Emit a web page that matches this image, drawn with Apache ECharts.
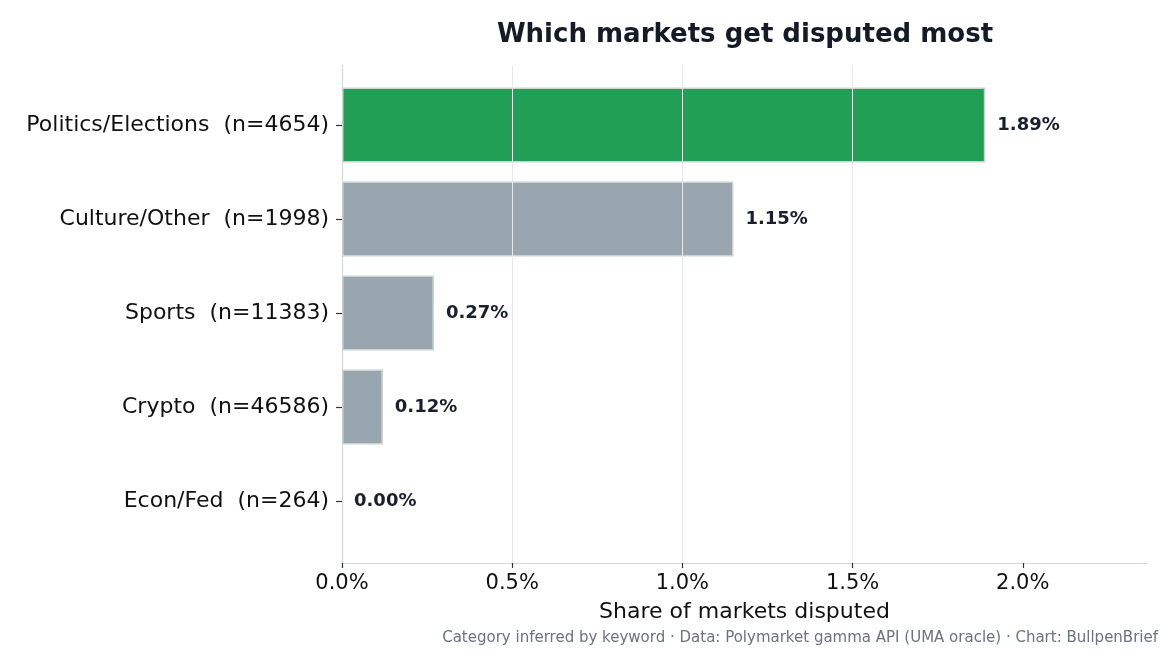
<!DOCTYPE html>
<html>
<head>
<meta charset="utf-8">
<script src="https://cdn.jsdelivr.net/npm/echarts@6/dist/echarts.min.js"></script>
<style>
  html, body { margin: 0; padding: 0; background: #fff; }
  #chart { width: 1170px; height: 650px; }
</style>
</head>
<body>
<div id="chart"></div>
<script>
// data
var categories = [
  "Politics/Elections  (n=4654)",
  "Culture/Other  (n=1998)",
  "Sports  (n=11383)",
  "Crypto  (n=46586)",
  "Econ/Fed  (n=264)"
];
var disputedShare = [1.89, 1.15, 0.27, 0.12, 0.00];
var xTicks = [0, 0.5, 1.0, 1.5, 2.0];
var xMax = 2.365;

var FONT = "DejaVu Sans";
var GREEN = "#21a055";
var GREY = "#9aa6af";

var chartDom = document.getElementById("chart");
var myChart = echarts.init(chartDom);

var barData = disputedShare.map(function (v, i) {
  return {
    value: v,
    itemStyle: { color: i === 0 ? GREEN : GREY, borderWidth: v > 0 ? 1.5 : 0 }
  };
});

var option = {
  backgroundColor: "#fff",
  animation: false,
  textStyle: { fontFamily: FONT },
  graphic: [
    {
      type: "text",
      x: 745,
      y: 35,
      style: {
        text: "Which markets get disputed most",
        font: "bold 26px " + FONT,
        fill: "#151b26",
        textAlign: "center",
        textVerticalAlign: "middle"
      }
    },
    {
      type: "text",
      x: 1158,
      y: 638,
      style: {
        text: "Category inferred by keyword \u00b7 Data: Polymarket gamma API (UMA oracle) \u00b7 Chart: BullpenBrief",
        font: "15px " + FONT,
        fill: "#6b7280",
        textAlign: "right",
        textVerticalAlign: "middle"
      }
    }
  ],
  grid: [
    // bars
    { left: 342, right: 23, top: 78, bottom: 102 },
    // frame, ticks and grid lines
    { left: 342, right: 23, top: 65, bottom: 87 }
  ],
  xAxis: [
    { gridIndex: 0, type: "value", min: 0, max: xMax, show: false },
    {
      gridIndex: 1,
      type: "value",
      min: 0,
      max: xMax,
      interval: 0.5,
      z: 5,
      name: "Share of markets disputed",
      nameLocation: "middle",
      nameGap: 38,
      nameTextStyle: { fontSize: 22, color: "#111", fontFamily: FONT },
      axisLine: { show: true, lineStyle: { color: "#d4d8dc", width: 1.2 } },
      axisTick: { show: true, length: 5, customValues: xTicks, lineStyle: { color: "#333", width: 1.2 } },
      axisLabel: {
        fontSize: 21,
        color: "#111",
        margin: 10,
        customValues: xTicks,
        formatter: function (v) { return v.toFixed(1) + "%"; }
      },
      splitLine: {
        show: true,
        showMinLine: false,
        showMaxLine: false,
        lineStyle: { color: "#e6e8eb", width: 1 }
      }
    }
  ],
  yAxis: [
    {
      gridIndex: 0,
      type: "category",
      data: categories,
      inverse: true,
      axisLine: { show: false },
      axisTick: { show: true, alignWithLabel: true, length: 6, lineStyle: { color: "#333", width: 1.2 } },
      axisLabel: { fontSize: 22, color: "#111", margin: 13 },
      splitLine: { show: false }
    },
    {
      gridIndex: 1,
      type: "value",
      min: 0,
      max: 1,
      axisLine: { show: true, lineStyle: { color: "#d4d8dc", width: 1.2 } },
      axisTick: { show: false },
      axisLabel: { show: false },
      splitLine: { show: false }
    }
  ],
  series: [
    {
      type: "bar",
      xAxisIndex: 0,
      yAxisIndex: 0,
      data: barData,
      barCategoryGap: "20%",
      itemStyle: { borderColor: "#c9d3cf", borderWidth: 1.5 },
      label: {
        show: true,
        position: "right",
        distance: 12,
        fontSize: 18,
        fontWeight: "bold",
        color: "#1a1f2b",
        fontFamily: FONT,
        formatter: function (p) { return p.value.toFixed(2) + "%"; }
      }
    }
  ]
};
myChart.setOption(option);
</script>
</body>
</html>
